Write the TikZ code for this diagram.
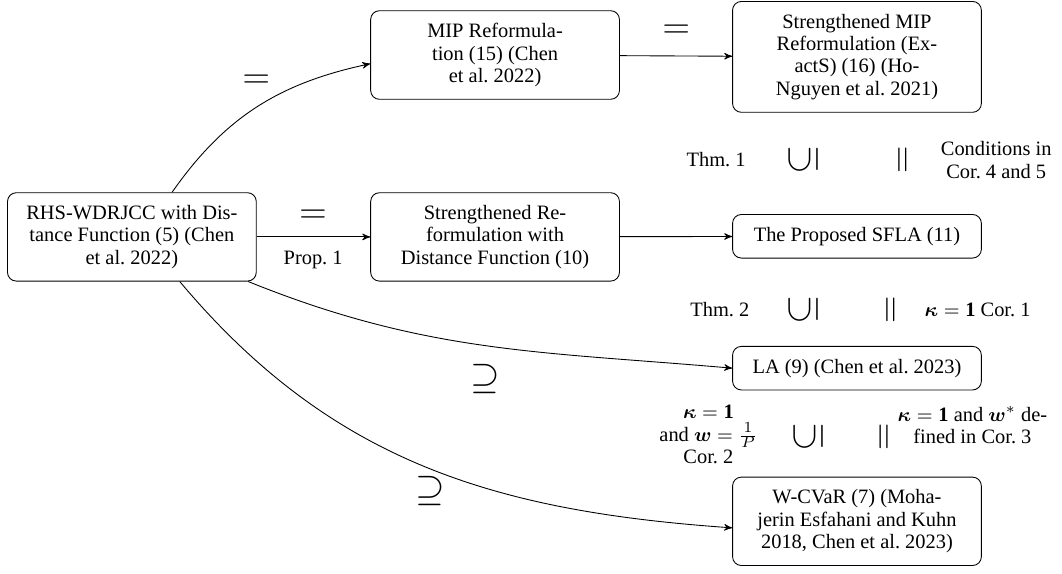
\documentclass[tikz,border=0pt]{standalone}
\usepackage{amsmath}
\usepackage{fontspec}
\setmainfont{Liberation Serif}
\usepackage{tikz}
\usetikzlibrary{arrows}
\frenchspacing

\begin{document}
\begin{tikzpicture}
[->,>=stealth',
  box/.style={draw,rounded corners,align=center,minimum width=3.98cm,inner xsep=5pt,inner ysep=5.7pt,font=\fontsize{9.3}{10.2}\selectfont},
  txt/.style={align=center,inner sep=1pt,font=\fontsize{9.3}{10.2}\selectfont},
  sym/.style={inner sep=0pt,font=\LARGE}]

  \useasboundingbox (0,0) rectangle (16.99,9.17);

  % boxes
  \node [box] (dist) at 	(2.11,5.38) 	{RHS-WDRJCC with Dis-\\tance Function (5) (Chen\\et al. 2022)};
  \node [box] (mip) at 		(7.92,8.29) 	{MIP Reformula-\\tion (15) (Chen\\et al. 2022)};
  \node [box] (smip) at 	(13.71,8.26) 	{Strengthened MIP\\Reformulation (Ex-\\actS) (16) (Ho-\\Nguyen et al. 2021)};
  \node [box] (sref) at 	(7.92,5.38) 	{Strengthened Re-\\formulation with\\Distance Function (10)};
  \node [box] (sfla) at 	(13.71,5.39) 	{The Proposed SFLA (11)};
  \node [box] (la) at 		(13.71,3.28) 	{LA (9) (Chen et al. 2023)};
  \node [box] (wcvar) at 	(13.71,0.83) 	{W-CVaR (7) (Moha-\\jerin Esfahani and Kuhn\\2018, Chen et al. 2023)};

  % relations on the arrows
  \node [sym] (eqmip) at 	(4.10,7.87) 	{$=$};
  \node [sym] (eqsmip) at 	(10.82,8.66) 	{$=$};
  \node [sym] (eqsref) at 	(5.01,5.71) 	{$=$};
  \node [txt] (prop) at 	(5.01,5.01) 	{Prop. 1};
  \node [sym] (supla) at 	(7.76,3.10) 	{$\supseteq$};
  \node [sym] (supwc) at 	(6.88,1.31) 	{$\supseteq$};

  % relations between the right boxes
  \node [txt,anchor=east] (thmone) at 	(11.97,6.61) 	{Thm. 1};
  \node [sym,rotate=90] (subone) at 	(12.85,6.61) 	{$\subseteq$};
  \node [sym,rotate=90] (eqone) at 	(14.48,6.61) 	{$=$};
  \node [txt,anchor=west] (condone) at 	(15.01,6.61) 	{Conditions in\\Cor. 4 and 5};

  \node [txt,anchor=east] (thmtwo) at 	(12.03,4.22) 	{Thm. 2};
  \node [sym,rotate=90] (subtwo) at 	(12.85,4.22) 	{$\subseteq$};
  \node [sym,rotate=90] (eqtwo) at 	(14.29,4.22) 	{$=$};
  \node [txt,anchor=west] (cortwo) at 	(14.75,4.22) 	{$\boldsymbol{\kappa}=\mathbf{1}$ Cor. 1};

  \node [txt,anchor=east] (corthree) at 	(12.16,2.22) 	{$\boldsymbol{\kappa}=\mathbf{1}$\\and $\boldsymbol{w}=\frac{1}{P}$\\Cor. 2};
  \node [sym,rotate=90] (subthree) at 	(12.93,2.18) 	{$\subseteq$};
  \node [sym,rotate=90] (eqthree) at 	(14.18,2.18) 	{$=$};
  \node [txt,anchor=west] (corfour) at 	(14.32,2.37) 	{$\boldsymbol{\kappa}=\mathbf{1}$ and $\boldsymbol{w}^*$ de-\\fined in Cor. 3};

  \foreach \from/\to in {mip/smip,dist/sref,sref/sfla}
    \draw (\from) -- (\to);

  \draw (dist.48) to[out=55,in=192] (mip.184);
  \draw (dist.-21) to[out=-22,in=175] (la.west);
  \draw (dist.-43) to[out=-50,in=176] (wcvar.183);

\end{tikzpicture}
\end{document}
